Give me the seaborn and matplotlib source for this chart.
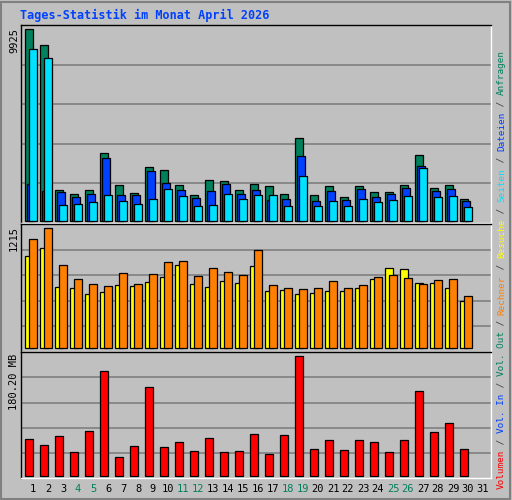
import numpy as np
import matplotlib
matplotlib.use("Agg")
import matplotlib.pyplot as plt
import seaborn as sns

days = list(range(1, 32))
weekend = [4, 5, 11, 12, 18, 19, 25, 26]

# top panel (30 days with data)
anfragen = [9925, 9095, 1576, 1369, 1576, 3495, 1835, 1421, 2769, 2613, 1835, 1317, 2095, 2043, 1576,
            1903, 1784, 1369, 4273, 1317, 1784, 1213, 1784, 1473, 1473, 1835, 3391, 1680, 1835, 1110]
dateien = [1900, 1540, 1473, 1213, 1369, 3235, 1317, 1317, 2561, 1939, 1576, 1161, 1524, 1887, 1369,
           1576, 1058, 1110, 3340, 1006, 1524, 1058, 1628, 1213, 1369, 1680, 2821, 1524, 1628, 1006]
seiten = [8890, 8420, 800, 850, 954, 1317, 1006, 850, 1110, 1628, 1265, 747, 800, 1369, 1110,
          1317, 1317, 747, 2302, 747, 1006, 747, 1110, 954, 1058, 1265, 2717, 1213, 1265, 695]
# middle panel
besuche = [931, 1013, 618, 608, 547, 567, 638, 628, 668, 719, 840, 648, 618, 678, 658,
           830, 577, 587, 547, 557, 577, 577, 608, 699, 810, 800, 658, 658, 608, 476]
rechner = [1104, 1215, 840, 699, 648, 628, 759, 648, 749, 871, 881, 729, 810, 770, 739,
           992, 638, 608, 597, 608, 678, 608, 638, 719, 739, 709, 648, 689, 699, 526]
# bottom panel (MB)
volumen = [54.9, 45.8, 59.4, 35.2, 66.9, 157.5, 27.7, 44.3, 133.4, 42.8, 50.3, 36.7, 56.4, 35.2, 36.7,
           62.4, 32.2, 60.9, 180.2, 39.8, 53.4, 38.3, 53.4, 50.3, 35.2, 53.4, 127.3, 65.4, 79.0, 39.8]

BG = "#c0c0c0"
GREEN = "#00805c"
BLUE = "#0040ff"
CYAN = "#00e0ff"
YELLOW = "#ffff00"
ORANGE = "#ff8000"
RED = "#ff0000"
MONO = "DejaVu Sans Mono"

sns.set_theme(style="white")
plt.rcParams["font.family"] = [MONO]

W, H = 512, 500
fig = plt.figure(figsize=(W / 100, H / 100), dpi=100, facecolor=BG)


def px_axes(x0, y0, x1, y1):
    return fig.add_axes([x0 / W, 1 - y1 / H, (x1 - x0) / W, (y1 - y0) / H])


ax1 = px_axes(20.7, 25, 490.7, 223)
ax2 = px_axes(20.7, 224, 490.7, 352)
ax3 = px_axes(20.7, 352, 490.7, 478.3)

BW = 0.49
n = len(anfragen)
base = np.arange(n)


def bars(ax, vals, offset, color):
    sns.barplot(x=base + offset + BW / 2, y=vals, native_scale=True, width=BW, color=color,
                saturation=1, edgecolor="black", linewidth=0.9, ax=ax)


bars(ax1, anfragen, 0.0, GREEN)
bars(ax1, dateien, 0.133, BLUE)
bars(ax1, seiten, 0.267, CYAN)
bars(ax2, besuche, 0.0, YELLOW)
bars(ax2, rechner, 0.267, ORANGE)
bars(ax3, volumen, 0.0, RED)

limits = [(ax1, -119, 10148), (ax2, -37, 1259), (ax3, -3.9, 186.7)]
for ax, lo, hi in limits:
    ax.set_facecolor(BG)
    ax.set_xlim(-0.307, 31.03)
    ax.set_ylim(lo, hi)
    ax.set_xticks([])
    ax.set_yticks([])
    ax.set_xlabel("")
    ax.set_ylabel("")
    for f in [0.8, 0.6, 0.4, 0.2]:
        ax.plot([0, 1], [f, f], transform=ax.transAxes, color="#808080", lw=1.2, zorder=0)
    for s in ax.spines.values():
        s.set_color("black")
        s.set_linewidth(1.0)
        s.set_visible(True)
    ax.spines["right"].set_color("white")
    ax.spines["bottom"].set_color("white")

# outer frame
fig.patches.append(plt.Rectangle((1 / W, 1 / H), 1 - 3 / W, 1 - 3 / H, transform=fig.transFigure,
                                 fill=False, edgecolor="#808080", lw=1.5))

fig.text(20 / W, 1 - 15 / H, "Tages-Statistik im Monat April 2026", color=BLUE,
         fontsize=8.5, fontweight="bold", va="center", ha="left")

# y maxima labels
fig.text(14 / W, 1 - 28 / H, "9925", rotation=90, ha="center", va="top", fontsize=7.5, color="black")
fig.text(14 / W, 1 - 226 / H, "1215", rotation=90, ha="center", va="top", fontsize=7.5, color="black")
fig.text(14 / W, 1 - 354 / H, "180.20 MB", rotation=90, ha="center", va="top", fontsize=7.5, color="black")

# x tick labels
for d in days:
    fig.text((25.3 + 15 * (d - 1) + 7.7) / W, 1 - 489 / H, str(d), ha="center", va="center",
             fontsize=7.5, color=GREEN if d in weekend else "black")

# right legend, bottom to top
segments = [("Volumen", RED), (" / ", "#404040"), ("Vol. In", BLUE), (" / ", "#404040"),
            ("Vol. Out", GREEN), (" / ", "#404040"), ("Rechner", ORANGE), (" / ", "#404040"),
            ("Besuche", YELLOW), (" / ", "#404040"), ("Seiten", CYAN), (" / ", "#404040"),
            ("Dateien", BLUE), (" / ", "#404040"), ("Anfragen", GREEN)]
total = sum(len(s) for s, _ in segments)
y0, y1 = 489, 50
step = (y0 - y1) / total
y = y0
for s, c in segments:
    fig.text(501.5 / W, 1 - y / H, s, rotation=90, ha="center", va="bottom", color=c,
             fontsize=step / 0.602 * 0.72)
    y -= len(s) * step

fig.savefig("out.png", dpi=100, facecolor=BG)
